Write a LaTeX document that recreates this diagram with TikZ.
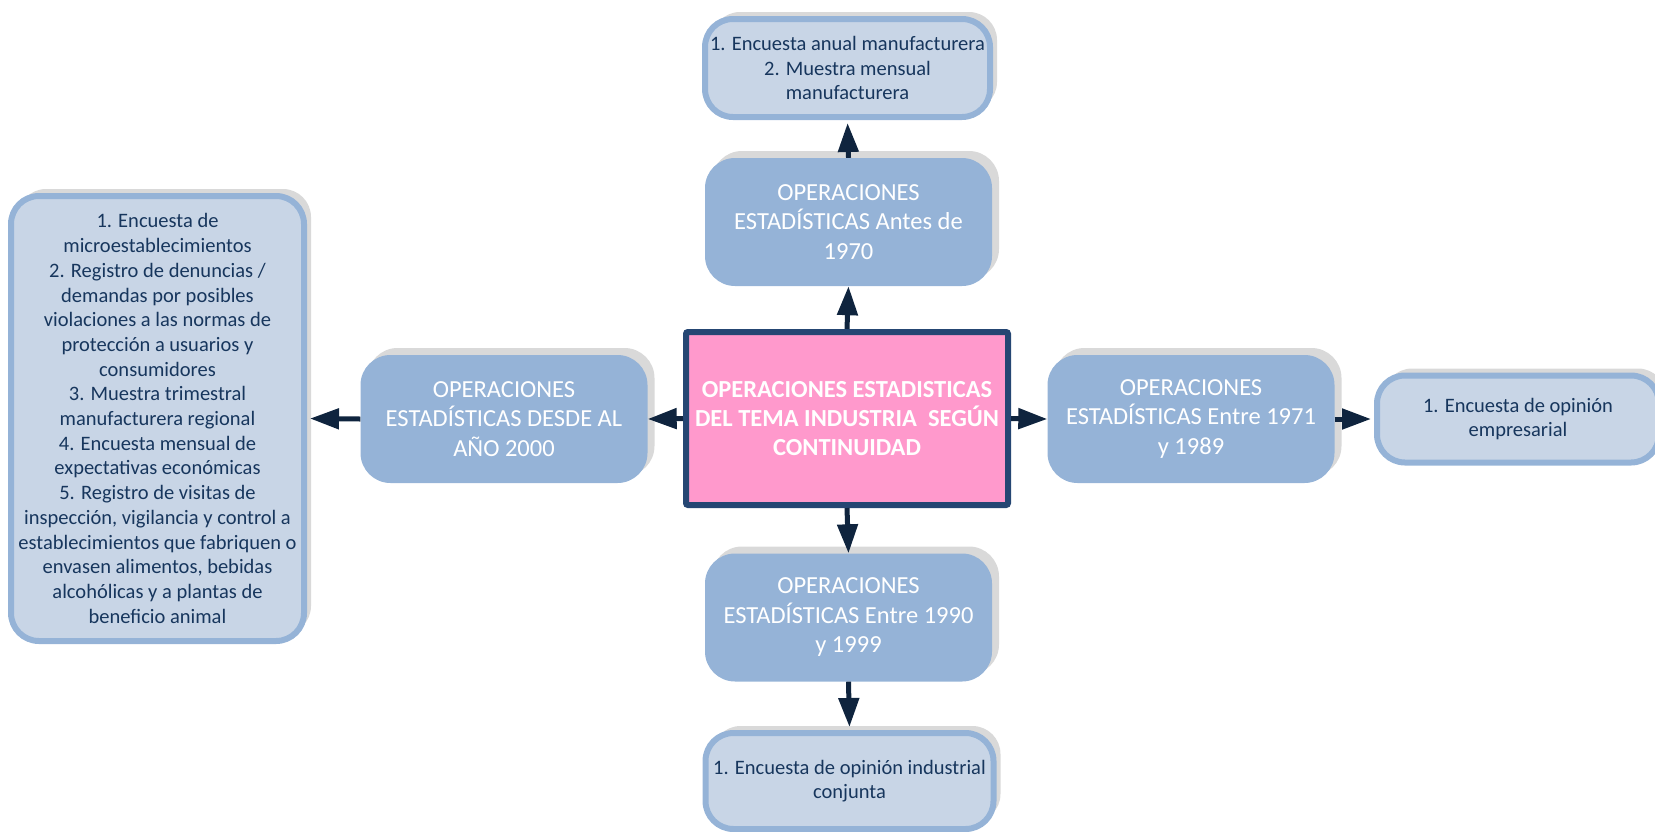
\documentclass[tikz,border=0pt]{standalone}
\usepackage{fontspec}
\setmainfont{Carlito}
\usetikzlibrary{shadows,arrows.meta}
\definecolor{midblue}{HTML}{95B3D7}
\definecolor{paleblue}{RGB}{200,213,230}
\definecolor{listtext}{HTML}{17365D}
\definecolor{arrowblue}{HTML}{0F243E}
\definecolor{pinkfill}{HTML}{FF99CC}
\definecolor{centerblue}{HTML}{254673}
\definecolor{shadegray}{HTML}{D9D9D9}
\begin{document}
\begin{tikzpicture}[x=1pt,y=-1pt,
  greyshadow/.style={drop shadow={shadow xshift=7pt,shadow yshift=7pt,fill=shadegray,opacity=1}},
  periodbox/.style={greyshadow,rounded corners=30pt,fill=midblue,text=white,align=center,
    inner sep=0pt,minimum width=287pt,minimum height=128pt,font=\fontsize{24.5}{29.5}\selectfont},
  listbox/.style={greyshadow,rounded corners=28pt,draw=midblue,line width=6pt,fill=paleblue,
    text=listtext,align=center,inner sep=0pt,font=\fontsize{20.5}{24.7}\selectfont},
  link/.style={arrowblue,line width=5pt,-{Triangle[length=29pt,width=20pt]}}]
\useasboundingbox (0,0) rectangle (1655,831);

% centre
\node[draw=centerblue,line width=6pt,fill=pinkfill,rounded corners=2pt,text=white,align=center,
  minimum width=322pt,minimum height=173pt,inner sep=0pt,font=\fontsize{24.5}{29}\selectfont\bfseries]
  (nCenter) at (847,418.5) {OPERACIONES ESTADISTICAS\\DEL TEMA INDUSTRIA \ SEGÚN\\CONTINUIDAD};

% periods
\node[periodbox] (nAntes) at (848.5,222) {OPERACIONES\\ESTADÍSTICAS Antes de\\1970};
\node[periodbox] (nDesde) at (504,419) {OPERACIONES\\ESTADÍSTICAS DESDE AL\\AÑO 2000};
\node[periodbox] (nEntreA) at (1191,419) {OPERACIONES\\ESTADÍSTICAS Entre 1971\\y 1989};
\node[periodbox] (nEntreB) at (848.5,617.5) {OPERACIONES\\ESTADÍSTICAS Entre 1990\\y 1999};

% lists
\node[listbox,minimum width=285pt,minimum height=98pt] (nTop) at (847.5,68)
  {1. Encuesta anual manufacturera\\2. Muestra mensual\\manufacturera};
\node[listbox,minimum width=293pt,minimum height=445pt] (nLeft) at (157.5,418.5)
  {1. Encuesta de\\microestablecimientos\\2. Registro de denuncias /\\demandas por posibles\\
   violaciones a las normas de\\protección a usuarios y\\consumidores\\3. Muestra trimestral\\
   manufacturera regional\\4. Encuesta mensual de\\expectativas económicas\\
   5. Registro de visitas de\\inspección, vigilancia y control a\\establecimientos que fabriquen o\\
   envasen alimentos, bebidas\\alcohólicas y a plantas de\\beneficio animal};
\node[listbox,minimum width=282pt,minimum height=87pt] (nRight) at (1518,419)
  {1. Encuesta de opinión\\empresarial};
\node[listbox,minimum width=288pt,minimum height=96pt] (nBot) at (849.5,781)
  {1. Encuesta de opinión industrial\\conjunta};

\draw[link] (nCenter.north) -- (nAntes.south);
\draw[link] (nCenter.west) -- (nDesde.east);
\draw[link] (nCenter.east) -- (nEntreA.west);
\draw[link] (nCenter.south) -- (nEntreB.north);
\draw[link,shorten >=3pt] (nAntes.north) -- (nTop.south);
\draw[link,shorten >=3pt] (nDesde.west) -- (nLeft.east);
\draw[link,shorten >=3pt] (nEntreA.east) -- (nRight.west);
\draw[link,shorten >=3pt] (nEntreB.south) -- (nBot.north);
\end{tikzpicture}
\end{document}
